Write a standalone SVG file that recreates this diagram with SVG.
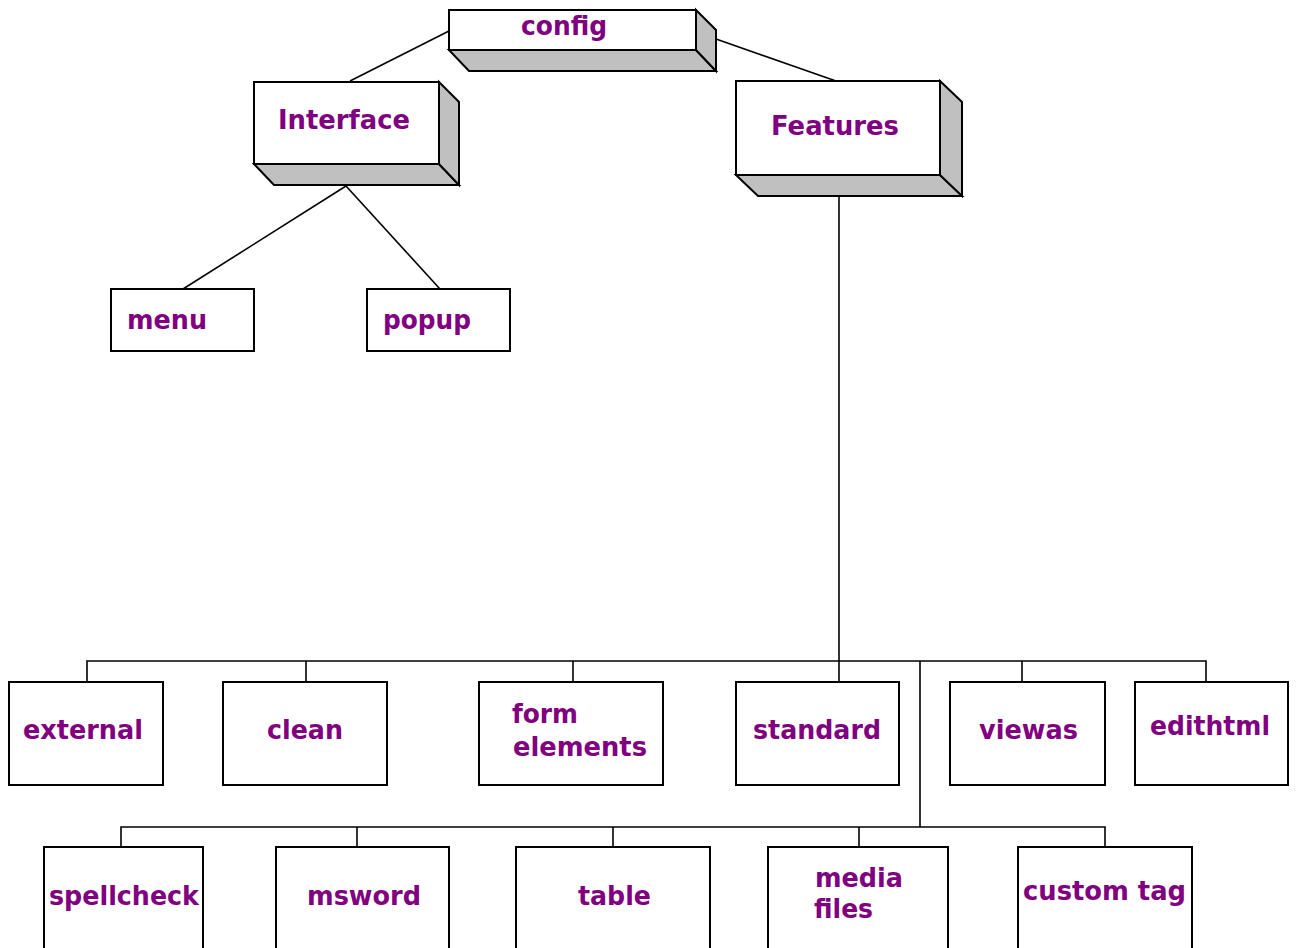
<svg xmlns="http://www.w3.org/2000/svg" width="1296" height="948" viewBox="0 0 1296 948">
<style>
.box{fill:#ffffff;stroke:#000;stroke-width:2}
.side{fill:#c0c0c0;stroke:#000;stroke-width:2;stroke-linejoin:miter}
.lbl{font-family:"DejaVu Sans","Verdana",sans-serif;font-weight:bold;font-size:27px;fill:#800080}
.conn{fill:none;stroke:#000;stroke-width:1.6}
</style>
<rect x="0" y="0" width="1296" height="948" fill="#ffffff"/>
<g id="connectors">
<line class="conn" x1="449" y1="31" x2="350" y2="81"/>
<line class="conn" x1="716" y1="39" x2="836" y2="81"/>
<line class="conn" x1="346" y1="186" x2="183" y2="289"/>
<line class="conn" x1="346" y1="186" x2="440" y2="289"/>
<line class="conn" x1="839" y1="196" x2="839" y2="682"/>
<polyline class="conn" points="87,682 87,661 1206,661 1206,682"/>
<line class="conn" x1="306" y1="661" x2="306" y2="682"/>
<line class="conn" x1="573" y1="661" x2="573" y2="682"/>
<line class="conn" x1="1022" y1="661" x2="1022" y2="682"/>
<line class="conn" x1="920" y1="661" x2="920" y2="827"/>
<polyline class="conn" points="121,847 121,827 1105,827 1105,847"/>
<line class="conn" x1="357" y1="827" x2="357" y2="847"/>
<line class="conn" x1="613" y1="827" x2="613" y2="847"/>
<line class="conn" x1="859" y1="827" x2="859" y2="847"/>
</g>
<g id="config">
<polygon class="side" points="449,50 696,50 716,71 469,71"/>
<polygon class="side" points="696,10 716,30 716,71 696,50"/>
<rect class="box" x="449" y="10" width="247" height="40"/>
<text class="lbl" x="521" y="35" textLength="86" lengthAdjust="spacingAndGlyphs">config</text>
</g>
<g id="interface">
<polygon class="side" points="254,164 439,164 459,185 274,185"/>
<polygon class="side" points="439,82 459,102 459,185 439,164"/>
<rect class="box" x="254" y="82" width="185" height="82"/>
<text class="lbl" x="278" y="129" textLength="132" lengthAdjust="spacingAndGlyphs">Interface</text>
</g>
<g id="features">
<polygon class="side" points="736,175 940,175 962,196 758,196"/>
<polygon class="side" points="940,81 962,102 962,196 940,175"/>
<rect class="box" x="736" y="81" width="204" height="94"/>
<text class="lbl" x="771" y="135" textLength="128" lengthAdjust="spacingAndGlyphs">Features</text>
</g>
<g id="menu">
<rect class="box" x="111" y="289" width="143" height="62"/>
<text class="lbl" x="127" y="329" textLength="80" lengthAdjust="spacingAndGlyphs">menu</text>
</g>
<g id="popup">
<rect class="box" x="367" y="289" width="143" height="62"/>
<text class="lbl" x="383" y="329" textLength="88" lengthAdjust="spacingAndGlyphs">popup</text>
</g>
<g id="external">
<rect class="box" x="9" y="682" width="154" height="103"/>
<text class="lbl" x="23" y="739" textLength="120" lengthAdjust="spacingAndGlyphs">external</text>
</g>
<g id="clean">
<rect class="box" x="223" y="682" width="164" height="103"/>
<text class="lbl" x="267" y="739" textLength="76" lengthAdjust="spacingAndGlyphs">clean</text>
</g>
<g id="form-elements">
<rect class="box" x="479" y="682" width="184" height="103"/>
<text class="lbl" x="512" y="723" textLength="66" lengthAdjust="spacingAndGlyphs">form</text>
<text class="lbl" x="513" y="756" textLength="134" lengthAdjust="spacingAndGlyphs">elements</text>
</g>
<g id="standard">
<rect class="box" x="736" y="682" width="163" height="103"/>
<text class="lbl" x="753" y="739" textLength="128" lengthAdjust="spacingAndGlyphs">standard</text>
</g>
<g id="viewas">
<rect class="box" x="950" y="682" width="155" height="103"/>
<text class="lbl" x="979" y="739" textLength="99" lengthAdjust="spacingAndGlyphs">viewas</text>
</g>
<g id="edithtml">
<rect class="box" x="1135" y="682" width="153" height="103"/>
<text class="lbl" x="1150" y="735" textLength="120" lengthAdjust="spacingAndGlyphs">edithtml</text>
</g>
<g id="spellcheck">
<rect class="box" x="44" y="847" width="159" height="120"/>
<text class="lbl" x="49" y="905" textLength="150" lengthAdjust="spacingAndGlyphs">spellcheck</text>
</g>
<g id="msword">
<rect class="box" x="276" y="847" width="173" height="120"/>
<text class="lbl" x="307" y="905" textLength="114" lengthAdjust="spacingAndGlyphs">msword</text>
</g>
<g id="table">
<rect class="box" x="516" y="847" width="194" height="120"/>
<text class="lbl" x="578" y="905" textLength="73" lengthAdjust="spacingAndGlyphs">table</text>
</g>
<g id="media-files">
<rect class="box" x="768" y="847" width="180" height="120"/>
<text class="lbl" x="815" y="887" textLength="88" lengthAdjust="spacingAndGlyphs">media</text>
<text class="lbl" x="814" y="918" textLength="59" lengthAdjust="spacingAndGlyphs">files</text>
</g>
<g id="custom-tag">
<rect class="box" x="1018" y="847" width="174" height="120"/>
<text class="lbl" x="1023" y="900" textLength="163" lengthAdjust="spacingAndGlyphs">custom tag</text>
</g>
</svg>
